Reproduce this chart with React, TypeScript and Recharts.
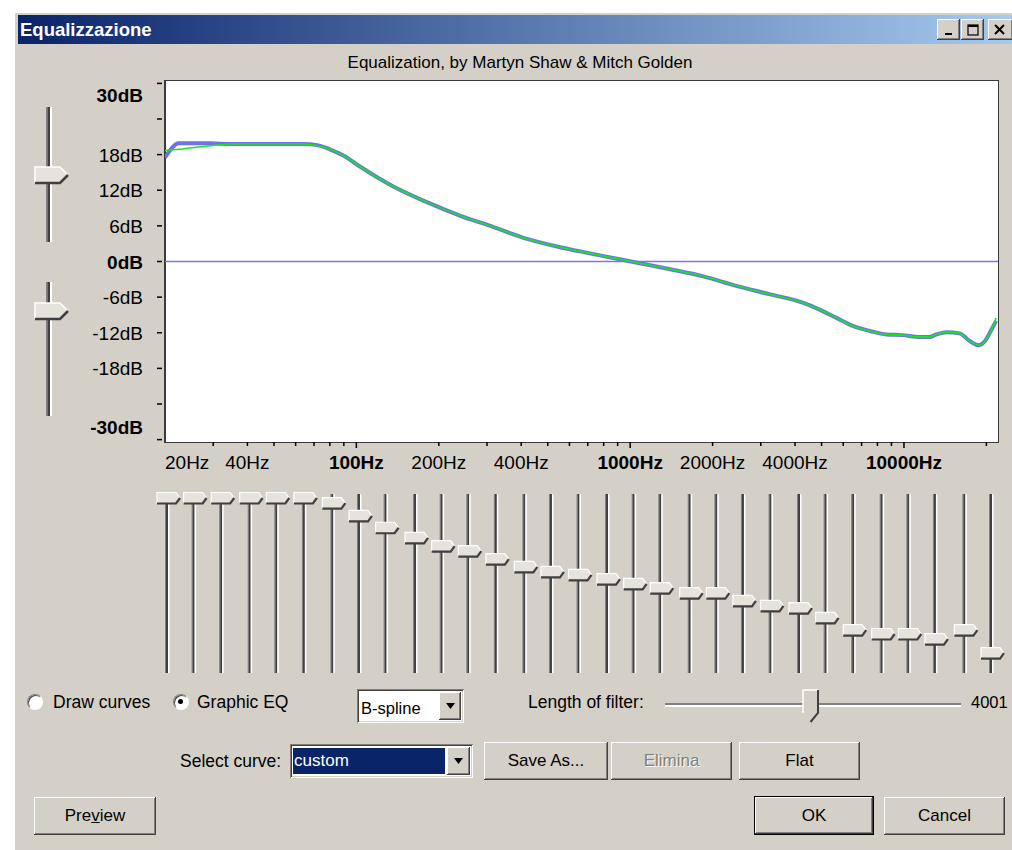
import React from "react";
import {
  LineChart,
  Line,
  XAxis,
  YAxis,
  ReferenceLine,
  ScatterChart,
  Scatter,
} from "recharts";

// curve: frequency (Hz) -> gain (dB)
const FREQS = [
  20, 22.5, 25.5, 29.3, 34.7, 45, 55, 64, 72, 80, 90, 103, 119, 137, 181, 240,
  317, 420, 555, 656, 800, 1060, 1400, 1850, 2440, 3220, 4240, 4920, 5670, 6540,
  7510, 8620, 9890, 11350, 12400, 13100, 14300, 15960, 17400, 18750, 19770,
  20910, 21700,
];
// blue: filter response
const FILTER_DB = [
  17.5, 19.9, 19.9, 19.9, 19.8, 19.8, 19.8, 19.8, 19.6, 18.9, 17.8, 16.0, 14.2,
  12.6, 10.0, 7.7, 5.8, 3.8, 2.4, 1.7, 0.9, -0.2, -1.3, -2.5, -4.1, -5.5, -6.9,
  -8.1, -9.5, -10.9, -11.7, -12.3, -12.4, -12.7, -12.7, -12.3, -11.9, -12.1,
  -13.4, -14.1, -13.4, -11.4, -10.0,
];
// green: drawn curve
const CURVE_DB = [
  18.7, 18.9, 19.2, 19.5, 19.8, 19.8, 19.8, 19.8, 19.5, 18.9, 17.8, 16.0, 14.2,
  12.6, 10.0, 7.7, 5.8, 3.8, 2.4, 1.7, 0.9, -0.2, -1.3, -2.5, -4.1, -5.5, -6.9,
  -8.1, -9.5, -10.9, -11.7, -12.3, -12.4, -12.7, -12.7, -12.3, -11.9, -12.1,
  -13.4, -14.1, -13.4, -11.4, -9.5,
];

// graphic EQ sliders (1/3 octave bands)
const BAND_FREQS = [
  20, 25, 31.5, 40, 50, 63, 80, 100, 125, 160, 200, 250, 315, 400, 500, 630,
  800, 1000, 1250, 1600, 2000, 2500, 3150, 4000, 5000, 6300, 8000, 10000, 12500,
  16000, 20000,
];
const BAND_GAINS = [
  20, 20, 20, 20, 20, 20, 18.8, 15.8, 13, 10.6, 8.7, 7.5, 5.6, 3.8, 2.6, 1.9,
  0.9, -0.2, -1.2, -2.4, -2.4, -4.2, -5.4, -5.9, -8.2, -11.1, -12, -12, -13.2,
  -11.1, -16.5,
];

const X_TICKS = [
  20, 30, 40, 50, 60, 70, 80, 90, 100, 200, 300, 400, 500, 600, 700, 800, 900,
  1000, 2000, 3000, 4000, 5000, 6000, 7000, 8000, 9000, 10000, 20000,
];
const X_LABELS: Record<number, string> = {
  20: "20Hz",
  40: "40Hz",
  100: "100Hz",
  200: "200Hz",
  400: "400Hz",
  1000: "1000Hz",
  2000: "2000Hz",
  4000: "4000Hz",
  10000: "10000Hz",
};
const X_MAJOR = [100, 1000, 10000];
const Y_TICKS = [-30, -24, -18, -12, -6, 0, 6, 12, 18, 24, 30];

const eqData = FREQS.map((freq, i) => ({
  freq,
  filter: FILTER_DB[i],
  curve: CURVE_DB[i],
}));
const bandData = BAND_FREQS.map((freq, i) => ({ freq, gain: BAND_GAINS[i] }));

const FONT = '"Liberation Sans", Arial, sans-serif';
const FACE = "#d4d0c8";

const raised: React.CSSProperties = {
  position: "absolute",
  boxSizing: "border-box",
  background: FACE,
  boxShadow: `inset -1px -1px #404040, inset 1px 1px #ffffff, inset -2px -2px #808080, inset 2px 2px ${FACE}`,
  display: "flex",
  alignItems: "center",
  justifyContent: "center",
  fontFamily: FONT,
  fontSize: 17,
  color: "#000",
};

const sunken: React.CSSProperties = {
  position: "absolute",
  boxSizing: "border-box",
  background: "#fff",
  boxShadow: `inset 1px 1px #808080, inset -1px -1px #ffffff, inset 2px 2px #404040, inset -2px -2px ${FACE}`,
};

function FreqTick(props: any) {
  const { x, y, payload } = props;
  const v = payload.value;
  const major = X_MAJOR.includes(v);
  const label = X_LABELS[v];
  return (
    <g>
      {v !== 20 && (
        <line x1={x} x2={x} y1={y} y2={y + (major ? 6 : 4)} stroke="#000" strokeWidth={1.5} />
      )}
      {label && (
        <text
          x={x}
          y={y + 27}
          textAnchor={v === 20 ? "start" : "middle"}
          fontSize={19}
          fontFamily={FONT}
          fontWeight={major ? "bold" : "normal"}
          fill="#000"
        >
          {label}
        </text>
      )}
    </g>
  );
}

function DbTick(props: any) {
  const { x, y, payload } = props;
  const v = payload.value;
  const bold = v === 30 || v === 0 || v === -30;
  const dy = v === 30 ? 12 : v === -30 ? -13 : 0;
  return (
    <g>
      <line x1={x - 8} x2={x - 3} y1={y} y2={y} stroke="#000" strokeWidth={1.5} />
      {Math.abs(v) !== 24 && (
        <text
          x={x - 22}
          y={y + dy + 7}
          textAnchor="end"
          fontSize={19}
          fontFamily={FONT}
          fontWeight={bold ? "bold" : "normal"}
          fill="#000"
        >
          {`${v}dB`}
        </text>
      )}
    </g>
  );
}

// one vertical slider of the graphic EQ bank
function BandSlider(props: any) {
  const { cx, cy } = props;
  const top = 14;
  const h = 179;
  return (
    <g>
      <rect x={cx - 2} y={top} width={1} height={h} fill="#808080" />
      <rect x={cx - 1} y={top} width={2} height={h} fill="#404040" />
      <rect x={cx + 1} y={top} width={1.5} height={h} fill="#ffffff" />
      <polygon
        points={`${cx - 10},${cy - 5.5} ${cx + 9},${cy - 5.5} ${cx + 13},${cy} ${cx + 9},${cy + 5.5} ${cx - 10},${cy + 5.5}`}
        fill="#e6e3dd"
      />
      <polyline
        points={`${cx - 10},${cy + 5.5} ${cx - 10},${cy - 5.5} ${cx + 9},${cy - 5.5} ${cx + 13},${cy}`}
        fill="none"
        stroke="#ffffff"
        strokeWidth={1.2}
      />
      <polyline
        points={`${cx - 10},${cy + 5.5} ${cx + 9},${cy + 5.5} ${cx + 13},${cy}`}
        fill="none"
        stroke="#404040"
        strokeWidth={2.2}
      />
    </g>
  );
}

function BigSlider({ top, height, thumb }: { top: number; height: number; thumb: number }) {
  return (
    <svg style={{ position: "absolute", left: 30, top: top, overflow: "visible" }} width={44} height={height}>
      <rect x={16} y={0} width={1.5} height={height} fill="#808080" />
      <rect x={17.5} y={0} width={2.5} height={height} fill="#404040" />
      <rect x={20} y={0} width={2} height={height} fill="#ffffff" />
      <polygon
        points={`5,${thumb - 8} 30,${thumb - 8} 38,${thumb} 30,${thumb + 8} 5,${thumb + 8}`}
        fill="#e6e3dd"
      />
      <polyline
        points={`5,${thumb + 8} 5,${thumb - 8} 30,${thumb - 8} 38,${thumb}`}
        fill="none"
        stroke="#fff"
        strokeWidth={1.5}
      />
      <polyline
        points={`5,${thumb + 8} 30,${thumb + 8} 38,${thumb}`}
        fill="none"
        stroke="#404040"
        strokeWidth={2.5}
      />
    </svg>
  );
}

function Arrow({ left, top, width, height }: { left: number; top: number; width: number; height: number }) {
  return (
    <div style={{ ...raised, left, top, width, height }}>
      <svg width={9} height={6}>
        <polygon points="0,0 9,0 4.5,6" fill="#000" />
      </svg>
    </div>
  );
}

function Label({ x, y, children, size = 17.5 }: { x: number; y: number; children: React.ReactNode; size?: number }) {
  return (
    <div
      style={{
        position: "absolute",
        left: x,
        top: y - 11,
        lineHeight: "22px",
        fontSize: size,
        fontFamily: FONT,
        color: "#000",
        whiteSpace: "nowrap",
      }}
    >
      {children}
    </div>
  );
}

function Radio({ x, y, checked }: { x: number; y: number; checked?: boolean }) {
  return (
    <div
      style={{
        position: "absolute",
        left: x - 8,
        top: y - 8,
        width: 16,
        height: 16,
        borderRadius: "50%",
        boxSizing: "border-box",
        background: "#fff",
        border: "1px solid",
        borderColor: "#808080 #ffffff #ffffff #808080",
        boxShadow: "inset 1px 1px #404040",
      }}
    >
      {checked && (
        <div
          style={{
            position: "absolute",
            left: 4,
            top: 4,
            width: 5,
            height: 5,
            borderRadius: "50%",
            background: "#000",
          }}
        />
      )}
    </div>
  );
}

export default function App() {
  return (
    <div style={{ position: "relative", width: 1012, height: 850, overflow: "hidden", background: "#fff" }}>
      <style>{"body{margin:0;background:#fff}"}</style>

      {/* window frame */}
      <div
        style={{
          position: "absolute",
          left: 14,
          top: 12,
          width: 1010,
          height: 838,
          background: FACE,
          borderLeft: "1px solid #ffffff",
          borderTop: "1px solid #ffffff",
          boxSizing: "border-box",
        }}
      />

      {/* title bar */}
      <div
        style={{
          position: "absolute",
          left: 18,
          top: 15,
          width: 1000,
          height: 29,
          background: "linear-gradient(to right, #0a246a, #a6caf0)",
        }}
      />
      <div
        style={{
          position: "absolute",
          left: 20,
          top: 15,
          lineHeight: "29px",
          color: "#fff",
          fontWeight: "bold",
          fontSize: 18.5,
          fontFamily: FONT,
        }}
      >
        Equalizzazione
      </div>
      <div style={{ ...raised, left: 937, top: 19, width: 23, height: 21 }}>
        <svg width={10} height={12}>
          <rect x={1} y={9} width={7} height={2} fill="#000" />
        </svg>
      </div>
      <div style={{ ...raised, left: 961, top: 19, width: 23, height: 21 }}>
        <svg width={12} height={12}>
          <rect x={1} y={1} width={10} height={10} fill="none" stroke="#000" strokeWidth={1.2} />
          <rect x={1} y={1} width={10} height={2} fill="#000" />
        </svg>
      </div>
      <div style={{ ...raised, left: 988, top: 19, width: 25, height: 21, justifyContent: "flex-start", paddingLeft: 6 }}>
        <svg width={12} height={12}>
          <path d="M1 1 L10 10 M10 1 L1 10" stroke="#000" strokeWidth={2} />
        </svg>
      </div>

      {/* subtitle */}
      <div
        style={{
          position: "absolute",
          left: 270,
          width: 500,
          top: 52,
          lineHeight: "22px",
          textAlign: "center",
          fontSize: 17,
          fontFamily: FONT,
          color: "#000",
        }}
      >
        Equalization, by Martyn Shaw &amp; Mitch Golden
      </div>

      {/* range sliders on the left */}
      <BigSlider top={107} height={135} thumb={68} />
      <BigSlider top={282} height={134} thumb={29} />

      {/* plot background */}
      <div
        style={{
          position: "absolute",
          left: 164,
          top: 80,
          width: 835,
          height: 363,
          boxSizing: "border-box",
          background: "#fff",
          border: "1px solid #3a3a3a",
          borderLeft: "2px solid #3a3a3a",
        }}
      />

      {/* response plot */}
      <div style={{ position: "absolute", left: 0, top: 0 }}>
        <LineChart
          width={1012}
          height={490}
          data={eqData}
          margin={{ top: 81, right: 14, bottom: 0, left: 0 }}
        >
          <XAxis
            dataKey="freq"
            type="number"
            scale="log"
            domain={[20, 22050]}
            allowDataOverflow
            ticks={X_TICKS}
            interval={0}
            axisLine={false}
            tickLine={false}
            tickSize={0}
            tickMargin={0}
            height={48}
            tick={(p: any) => <FreqTick {...p} />}
          />
          <YAxis
            type="number"
            domain={[-30.4, 30.4]}
            allowDataOverflow
            ticks={Y_TICKS}
            interval={0}
            axisLine={false}
            tickLine={false}
            tickSize={0}
            tickMargin={0}
            width={165}
            tick={(p: any) => <DbTick {...p} />}
          />
          <ReferenceLine y={0} stroke="#7878ee" strokeWidth={1.5} />
          <Line
            dataKey="filter"
            type="monotone"
            stroke="#7070ea"
            strokeWidth={4}
            dot={false}
            isAnimationActive={false}
          />
          <Line
            dataKey="curve"
            type="monotone"
            stroke="#14ea14"
            strokeWidth={1.6}
            dot={false}
            isAnimationActive={false}
          />
        </LineChart>
      </div>

      {/* graphic EQ slider bank */}
      <div style={{ position: "absolute", left: 0, top: 480 }}>
        <ScatterChart width={1012} height={210} margin={{ top: 18, right: 21, bottom: 22, left: 167 }}>
          <XAxis dataKey="freq" type="number" scale="log" domain={[20, 20000]} hide />
          <YAxis dataKey="gain" type="number" domain={[-20, 20]} hide />
          <Scatter
            data={bandData}
            shape={(p: any) => <BandSlider {...p} />}
            isAnimationActive={false}
          />
        </ScatterChart>
      </div>

      {/* controls */}
      <Radio x={35} y={702} />
      <Label x={53} y={702}>Draw curves</Label>
      <Radio x={181} y={702} checked />
      <Label x={197} y={702}>Graphic EQ</Label>

      <div style={{ ...sunken, left: 357, top: 689, width: 107, height: 34 }} />
      <Label x={361} y={708} size={16.5}>B-spline</Label>
      <Arrow left={439} top={692} width={22} height={28} />

      <Label x={528} y={702}>Length of filter:</Label>
      <div
        style={{
          position: "absolute",
          left: 665,
          top: 703,
          width: 296,
          height: 4,
          boxSizing: "border-box",
          borderTop: "2px solid #808080",
          borderBottom: "2px solid #ffffff",
          background: "#404040",
        }}
      />
      <svg style={{ position: "absolute", left: 802, top: 689 }} width={18} height={36}>
        <polygon points="1,1 16,1 16,24 8.5,33 1,24" fill={FACE} />
        <polyline points="1,24 1,1 16,1" fill="none" stroke="#fff" strokeWidth={1.5} />
        <polyline points="16,1 16,24 8.5,33" fill="none" stroke="#404040" strokeWidth={2} />
      </svg>
      <Label x={971} y={702} size={16.5}>4001</Label>

      <Label x={180} y={761}>Select curve:</Label>
      <div style={{ ...sunken, left: 290, top: 744, width: 183, height: 34 }} />
      <div
        style={{
          position: "absolute",
          left: 293,
          top: 748,
          width: 152,
          height: 26,
          background: "#0a246a",
          color: "#fff",
          fontSize: 17,
          fontFamily: FONT,
          lineHeight: "26px",
          paddingLeft: 1,
          boxSizing: "border-box",
        }}
      >
        custom
      </div>
      <Arrow left={447} top={747} width={23} height={28} />

      <div style={{ ...raised, left: 484, top: 742, width: 124, height: 38 }}>Save As...</div>
      <div style={{ ...raised, left: 611, top: 742, width: 121, height: 38, color: "#808080", textShadow: "1px 1px #ffffff" }}>
        Elimina
      </div>
      <div style={{ ...raised, left: 739, top: 742, width: 121, height: 38 }}>Flat</div>

      <div style={{ ...raised, left: 34, top: 797, width: 122, height: 38 }}>
        <span>
          Pre<u>v</u>iew
        </span>
      </div>
      <div style={{ ...raised, left: 754, top: 796, width: 120, height: 39, border: "1px solid #000" }}>OK</div>
      <div style={{ ...raised, left: 884, top: 797, width: 121, height: 38 }}>Cancel</div>
    </div>
  );
}
